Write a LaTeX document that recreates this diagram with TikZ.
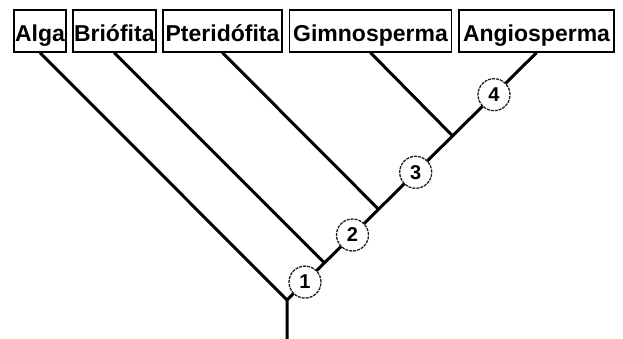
\documentclass[tikz,border=0pt]{standalone}
\usepackage{fontspec}
\setmainfont{Liberation Sans}
\usetikzlibrary{positioning}
\definecolor{ringgray}{RGB}{30, 30, 30}

\begin{document}
\begin{tikzpicture}[x=1pt, y=-1pt,
  taxon/.style={draw, line width=1.4pt, inner sep=0pt, minimum height=42pt, text height=21pt, text depth=0pt, font=\fontsize{23}{25}\selectfont\bfseries},
  branch/.style={line width=3pt},
  mark node/.style={circle, draw=ringgray, line width=1.3pt, dash pattern=on 3pt off 1pt, fill=white, minimum size=32pt, inner sep=0pt, font=\fontsize{20}{22}\selectfont\bfseries}]
  \useasboundingbox (0,0) rectangle (623,339);

  % Taxa
  \node[taxon, minimum width=52pt] (alga) at (40,31) {Alga};
  \node[taxon, minimum width=83pt] (brio) at (114.3,31) {Briófita};
  \node[taxon, minimum width=119pt] (pteri) at (222.5,31) {Pteridófita};
  \node[taxon, minimum width=162pt] (gimno) at (370.5,31) {Gimnosperma};
  \node[taxon, minimum width=155pt] (angio) at (536.5,31) {Angiosperma};

  % Junctions on the main axis
  \coordinate (root) at (287,339);
  \coordinate (j0) at (287,300);
  \coordinate (j1) at (324.4,262.9);
  \coordinate (j2) at (378.5,209.2);
  \coordinate (j3) at (452.5,135.8);

  % Branches
  \draw[branch] (root) -- (j0) -- (angio.south);
  \draw[branch] (j0) -- (alga.south);
  \draw[branch] (j1) -- (brio.south);
  \draw[branch] (j2) -- (pteri.south);
  \draw[branch] (j3) -- (gimno.south);

  % Novelties
  \node[mark node] (m1) at (305,282.1) {1};
  \node[mark node] (m2) at (352.5,235.0) {2};
  \node[mark node] (m3) at (415.7,172.3) {3};
  \node[mark node] (m4) at (494,94.7) {4};
\end{tikzpicture}
\end{document}
